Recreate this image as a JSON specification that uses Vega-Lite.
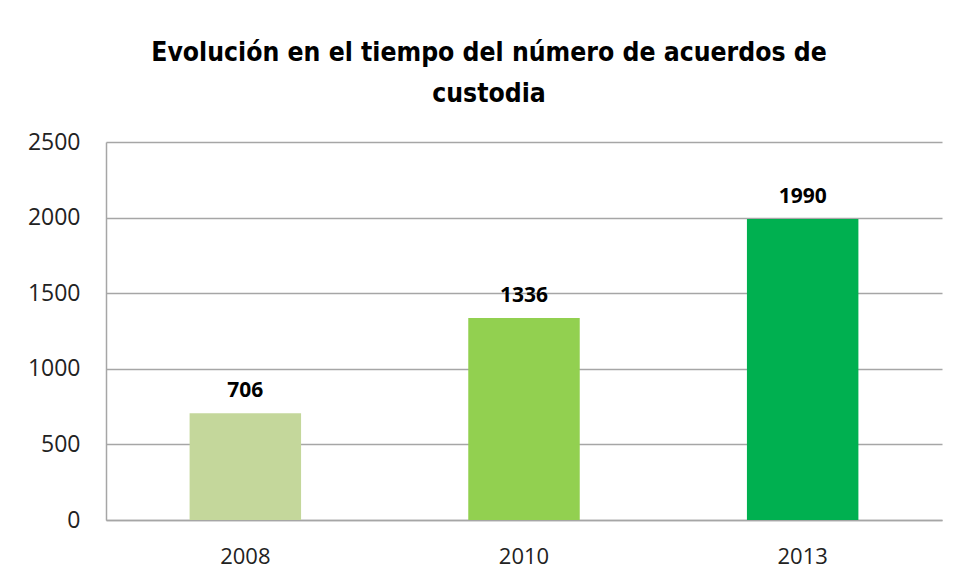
{
  "$schema": "https://vega.github.io/schema/vega-lite/v6.json",
  "width": 836,
  "height": 378,
  "autosize": {"type": "none"},
  "padding": {"left": 106, "top": 142, "right": 14, "bottom": 61},
  "background": "white",
  "title": {
    "text": ["Evolución  en el tiempo del número de acuerdos de", "custodia"],
    "font": "DejaVu Sans Condensed, Open Sans",
    "fontSize": 26.3,
    "fontWeight": "bold",
    "color": "#000000",
    "anchor": "middle",
    "dx": -35,
    "offset": 24,
    "lineHeight": 41
  },
  "data": {
    "values": [
      {"year": "2008", "value": 706},
      {"year": "2010", "value": 1336},
      {"year": "2013", "value": 1990}
    ]
  },
  "encoding": {
    "x": {
      "field": "year",
      "type": "nominal",
      "sort": null,
      "scale": {"paddingInner": 0.6, "paddingOuter": 0.3},
      "axis": {
        "title": null,
        "labelAngle": 0,
        "labelFont": "Open Sans",
        "labelFontSize": 22,
        "labelColor": "#222222",
        "labelPadding": 26,
        "ticks": false,
        "domainColor": "#a6a6a6",
        "domainWidth": 1.5
      }
    },
    "y": {
      "field": "value",
      "type": "quantitative",
      "scale": {"domain": [0, 2500]},
      "axis": {
        "title": null,
        "format": "d",
        "values": [0, 500, 1000, 1500, 2000, 2500],
        "labelFont": "Open Sans",
        "labelFontSize": 23,
        "labelColor": "#222222",
        "labelPadding": 26,
        "ticks": false,
        "gridColor": "#a6a6a6",
        "gridWidth": 1.5,
        "domainColor": "#a6a6a6",
        "domainWidth": 1.5
      }
    }
  },
  "layer": [
    {
      "mark": {"type": "bar"},
      "encoding": {
        "color": {
          "field": "year",
          "type": "nominal",
          "scale": {"domain": ["2008", "2010", "2013"], "range": ["#c4d79b", "#92d050", "#00b050"]},
          "legend": null
        }
      }
    },
    {
      "mark": {"type": "text", "dy": -16, "baseline": "alphabetic", "font": "Open Sans", "fontWeight": "bold", "fontSize": 21, "color": "#000000"},
      "encoding": {"text": {"field": "value", "type": "quantitative"}}
    }
  ],
  "config": {"view": {"stroke": null}}
}
